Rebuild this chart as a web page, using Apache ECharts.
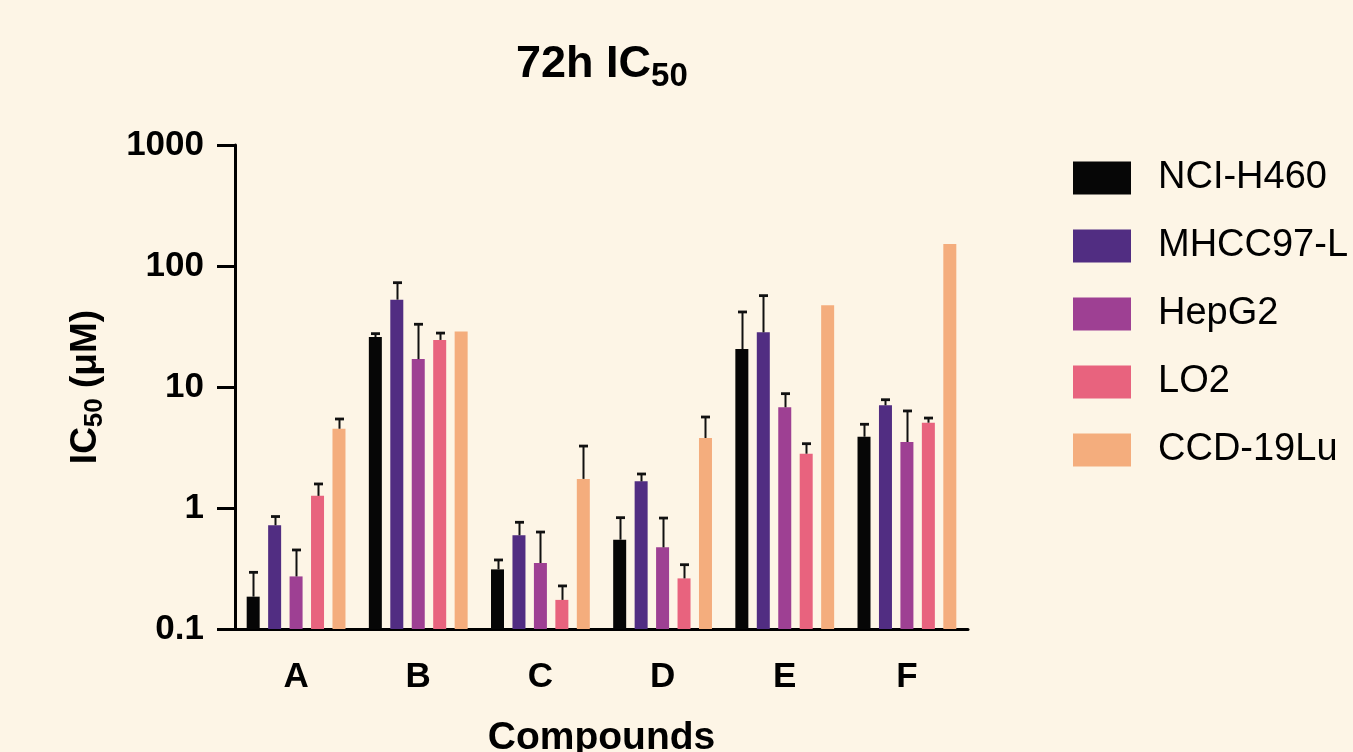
<!DOCTYPE html>
<html>
<head>
<meta charset="utf-8">
<script src="https://cdn.jsdelivr.net/npm/echarts@6/dist/echarts.min.js"></script>
<style>
html,body{margin:0;padding:0;background:#fdf5e6;}
#chart{width:1353px;height:752px;}
</style>
</head>
<body>
<div id="chart"></div>
<script>
// ---- data ----
const categories = ['A', 'B', 'C', 'D', 'E', 'F'];
const seriesNames = ['NCI-H460', 'MHCC97-L', 'HepG2', 'LO2', 'CCD-19Lu'];
const nciH460 = [0.185, 25.9, 0.311, 0.547, 20.6, 3.88];
const nciH460Upper = [0.294, 27.6, 0.372, 0.832, 41.7, 4.92];
const mhcc97L = [0.72, 52.7, 0.595, 1.66, 28.3, 7.06];
const mhcc97LUpper = [0.85, 72.8, 0.762, 1.91, 56.9, 7.85];
const hepG2 = [0.272, 17.0, 0.351, 0.473, 6.80, 3.51];
const hepG2Upper = [0.45, 33.0, 0.633, 0.826, 8.81, 6.34];
const lo2 = [1.26, 24.5, 0.174, 0.262, 2.81, 5.07];
const lo2Upper = [1.58, 27.9, 0.227, 0.340, 3.40, 5.54];
const ccd19Lu = [4.52, 28.8, 1.74, 3.79, 47.3, 152];
const ccd19LuUpper = [5.44, null, 3.25, 5.65, null, null];
const yTickLabels = ['0.1', '1', '10', '100', '1000'];

const values = [nciH460, mhcc97L, hepG2, lo2, ccd19Lu];
const uppers = [nciH460Upper, mhcc97LUpper, hepG2Upper, lo2Upper, ccd19LuUpper];
const colors = ['#060606', '#512d82', '#9e4093', '#e8637e', '#f4ad7d'];

const FONT = '"Liberation Sans", Arial, Helvetica, sans-serif';
const BAR_W = 13;
const GAP_RATIO = 0.65;
const PITCH = BAR_W * (1 + GAP_RATIO);

const chart = echarts.init(document.getElementById('chart'));

const series = [];
values.forEach((vals, s) => {
  series.push({
    name: seriesNames[s],
    type: 'bar',
    data: vals,
    barWidth: BAR_W,
    barGap: (GAP_RATIO * 100) + '%',
    itemStyle: { color: colors[s] },
    z: 2
  });
});
values.forEach((vals, s) => {
  const data = [];
  vals.forEach((v, i) => {
    if (uppers[s][i] != null) data.push([i, v, uppers[s][i]]);
  });
  const offset = (s - (values.length - 1) / 2) * PITCH;
  series.push({
    name: seriesNames[s] + ' error',
    type: 'custom',
    data: data,
    z: 3,
    silent: true,
    encode: { x: 0, y: [1, 2] },
    renderItem: function (params, api) {
      const cat = api.value(0);
      const base = api.coord([cat, api.value(1)]);
      const top = api.coord([cat, api.value(2)]);
      const x = Math.round(base[0] + offset) + 0.5;
      return {
        type: 'group',
        children: [
          { type: 'line', shape: { x1: x, y1: base[1], x2: x, y2: top[1] },
            style: { stroke: '#111', lineWidth: 2 } },
          { type: 'line', shape: { x1: x - 4.5, y1: top[1], x2: x + 4.5, y2: top[1] },
            style: { stroke: '#111', lineWidth: 2.8 } }
        ]
      };
    }
  });
});

const option = {
  backgroundColor: '#fdf5e6',
  animation: false,
  title: {
    text: '{m|72h IC}{s|50}',
    left: 516,
    top: 37,
    padding: 0,
    textStyle: {
      rich: {
        m: { fontFamily: FONT, fontSize: 45, fontWeight: 'bold', color: '#000', lineHeight: 56 },
        s: { fontFamily: FONT, fontSize: 33, fontWeight: 'bold', color: '#000', verticalAlign: 'bottom' }
      }
    }
  },
  legend: {
    orient: 'vertical',
    left: 1073,
    top: 159,
    padding: 0,
    icon: 'rect',
    itemWidth: 58,
    itemHeight: 33,
    itemGap: 30,
    data: seriesNames,
    textStyle: { fontFamily: FONT, fontSize: 38, color: '#000', padding: [0, 0, 0, 22] }
  },
  grid: {
    left: 235,
    right: 385,
    top: 145,
    bottom: 123,
    containLabel: false,
    outerBoundsMode: 'none'
  },
  xAxis: {
    type: 'category',
    data: categories,
    name: 'Compounds',
    nameLocation: 'middle',
    nameGap: 90,
    nameTextStyle: { fontFamily: FONT, fontSize: 39, fontWeight: 'bold', color: '#000' },
    axisLine: { lineStyle: { color: '#000', width: 3 } },
    axisTick: { alignWithLabel: true, length: 15, lineStyle: { color: '#000', width: 3 } },
    axisLabel: { fontFamily: FONT, fontSize: 35, fontWeight: 'bold', color: '#000', margin: 31 },
    splitLine: { show: false }
  },
  yAxis: {
    type: 'log',
    logBase: 10,
    min: 0.1,
    max: 1000,
    startValue: 0.1,
    name: '{m|IC}{s|50}{m| (μM)}',
    nameLocation: 'middle',
    nameGap: 127,
    nameTextStyle: {
      rich: {
        m: { fontFamily: FONT, fontSize: 37, fontWeight: 'bold', color: '#000', lineHeight: 44 },
        s: { fontFamily: FONT, fontSize: 26, fontWeight: 'bold', color: '#000', verticalAlign: 'bottom' }
      }
    },
    axisLine: { show: true, lineStyle: { color: '#000', width: 3 } },
    axisTick: { show: true, length: 18, lineStyle: { color: '#000', width: 3 } },
    minorTick: { show: false },
    axisLabel: {
      fontFamily: FONT, fontSize: 35, fontWeight: 'bold', color: '#000', margin: 31,
      formatter: function (v) {
        const idx = Math.round(Math.log10(v)) + 1;
        return yTickLabels[idx] !== undefined ? yTickLabels[idx] : '';
      }
    },
    splitLine: { show: false }
  },
  series: series
};
chart.setOption(option);
</script>
</body>
</html>
